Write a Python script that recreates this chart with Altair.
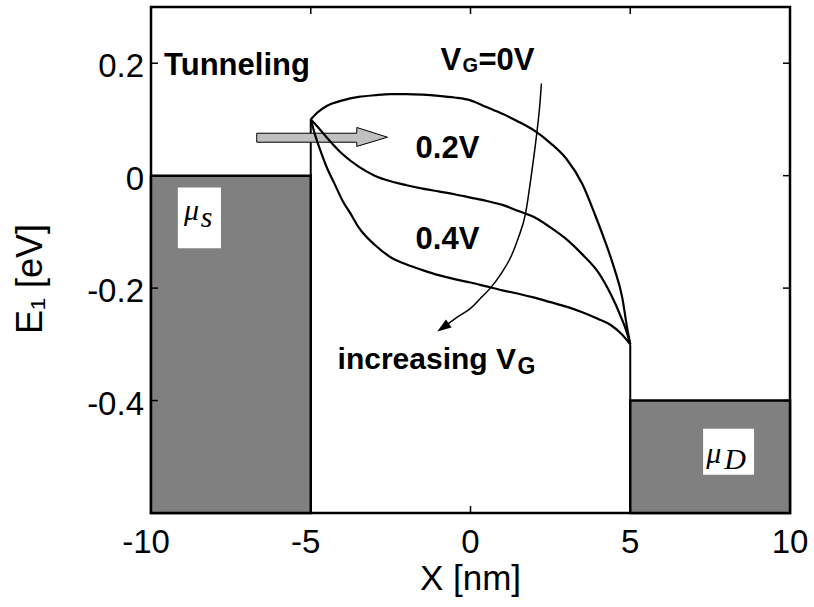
import altair as alt
import pandas as pd

# Channel band profile E1(x) for three gate voltages
x_vg0 = [-5.0, -4.8, -4.5, -4.0, -3.5, -3.0, -2.5, -2.0, -1.5, -1.0, -0.5, 0.0, 0.5, 1.0,
         1.5, 2.0, 2.5, 3.0, 3.5, 3.9, 4.2, 4.5, 4.75, 4.9, 5.0]
e_vg0 = [0.100, 0.112, 0.124, 0.134, 0.140, 0.143, 0.145, 0.145, 0.144, 0.142, 0.139, 0.134,
         0.122, 0.110, 0.096, 0.080, 0.058, 0.030, -0.015, -0.070, -0.115, -0.165, -0.217,
         -0.270, -0.300]

x_vg02 = [-5.0, -4.8, -4.5, -4.0, -3.5, -3.0, -2.5, -2.0, -1.5, -1.0, -0.5, 0.0, 0.5, 1.0,
          1.5, 2.0, 2.5, 3.0, 3.5, 4.0, 4.4, 4.7, 4.9, 5.0]
e_vg02 = [0.100, 0.088, 0.068, 0.038, 0.016, 0.000, -0.010, -0.017, -0.023, -0.028, -0.033,
          -0.039, -0.045, -0.052, -0.063, -0.074, -0.092, -0.113, -0.140, -0.172, -0.212,
          -0.250, -0.280, -0.300]

x_vg04 = [-5.0, -4.85, -4.7, -4.5, -4.25, -4.0, -3.75, -3.5, -3.0, -2.5, -2.0, -1.5, -1.0,
          -0.5, 0.0, 0.5, 1.0, 1.5, 2.0, 2.5, 3.0, 3.5, 4.0, 4.4, 4.75, 5.0]
e_vg04 = [0.100, 0.070, 0.045, 0.015, -0.015, -0.045, -0.068, -0.092, -0.123, -0.145, -0.158,
          -0.168, -0.177, -0.184, -0.190, -0.197, -0.204, -0.210, -0.217, -0.225, -0.233,
          -0.243, -0.255, -0.266, -0.283, -0.300]

# Source / drain contacts: x range and Fermi level
contact_x0 = [-10, 5]
contact_x1 = [-5, 10]
contact_mu = [0.0, -0.4]
contact_floor = [-0.6, -0.6]

# Barrier edges joining the contact levels to the channel ends
edge_x = [-5, 5]
edge_lo = [0.0, -0.4]
edge_hi = [0.1, -0.3]

x_ticks = [-10, -5, 0, 5, 10]
y_ticks = [-0.4, -0.2, 0, 0.2]
x_tick_labels = ["-10", "-5", "0", "5", "10"]
y_tick_labels = ["-0.4", "-0.2", "0", "0.2"]

W, H = 639, 506
FONT = "Liberation Sans"
SERIF = "Liberation Serif"

xs = alt.Scale(domain=[-10, 10], nice=False, zero=False)
ys = alt.Scale(domain=[-0.6, 0.3], nice=False, zero=False)


def X(field, **kw):
    return alt.X(field, type="quantitative", scale=xs, axis=None, **kw)


def Y(field, **kw):
    return alt.Y(field, type="quantitative", scale=ys, axis=None, **kw)


curves = pd.concat([
    pd.DataFrame({"x": x_vg0, "E": e_vg0, "vg": "0V"}),
    pd.DataFrame({"x": x_vg02, "E": e_vg02, "vg": "0.2V"}),
    pd.DataFrame({"x": x_vg04, "E": e_vg04, "vg": "0.4V"}),
])

contacts = pd.DataFrame({"x0": contact_x0, "x1": contact_x1,
                         "mu": contact_mu, "floor": contact_floor})
edges = pd.DataFrame({"x": edge_x, "lo": edge_lo, "hi": edge_hi})

contact_layer = alt.Chart(contacts).mark_rect(
    fill="#808080", stroke="black", strokeWidth=2.5
).encode(x=X("x0"), x2="x1", y=Y("mu"), y2="floor")

edge_layer = alt.Chart(edges).mark_rule(color="black", strokeWidth=2).encode(
    x=X("x"), y=Y("lo"), y2="hi")

# White label boxes on the contacts
boxes = pd.DataFrame({"x0": [-9.16, 7.28], "x1": [-7.81, 8.875],
                      "y0": [-0.021, -0.45], "y1": [-0.129, -0.532]})
box_layer = alt.Chart(boxes).mark_rect(fill="white").encode(
    x=X("x0"), x2="x1", y=Y("y0"), y2="y1")

mu_text = pd.DataFrame({
    "t": ["\u03bc", "s", "\u03bc", "D"],
    "x": [-8.97, -8.44, 7.375, 7.94],
    "y": [-0.079, -0.091, -0.511, -0.521],
})
mu_layer = alt.Chart(mu_text).mark_text(
    font=SERIF, fontStyle="italic", fontSize=30, align="left",
    baseline="alphabetic", color="black"
).encode(x=X("x"), y=Y("y"), text="t:N")

# Tunneling block arrow (outline traced as one closed area)
arrow = pd.DataFrame({
    "x": [-6.69, -3.56, -3.559, -2.6],
    "lo": [0.0595, 0.0595, 0.052, 0.0684],
    "hi": [0.0755, 0.0755, 0.0857, 0.0684],
})
arrow_layer = alt.Chart(arrow).mark_area(
    color="#c0c0c0", stroke="black", strokeWidth=1, opacity=1
).encode(x=X("x"), y=Y("hi"), y2="lo")

curve_layer = alt.Chart(curves).mark_line(
    color="black", strokeWidth=2.2, interpolate="monotone"
).encode(x=X("x"), y=Y("E"), detail="vg:N")

# "increasing V_G" guide arrow
guide = pd.DataFrame({
    "x": [2.22, 2.16, 2.08, 1.95, 1.72, 1.5, 1.25, 0.95, 0.62, 0.3, 0.0, -0.5, -0.86],
    "y": [0.164, 0.12, 0.078, 0.02, -0.068, -0.11, -0.146, -0.175, -0.200, -0.219,
          -0.236, -0.255, -0.270],
})
guide["i"] = range(len(guide))
guide_layer = alt.Chart(guide).mark_line(
    color="black", strokeWidth=1.5, interpolate="cardinal"
).encode(x=X("x"), y=Y("y"), order="i:Q")

head = pd.DataFrame({"x": [-0.86], "y": [-0.270]})
head_layer = alt.Chart(head).mark_point(
    shape="M0,-1L0.7,1L-0.7,1Z", filled=True, color="black", opacity=1,
    size=196, angle=235
).encode(x=X("x"), y=Y("y"))

# Bold annotations
big = pd.DataFrame({
    "t": ["Tunneling", "V", "=0V", "0.2V", "0.4V"],
    "x": [-9.59, -0.94, 0.25, -1.72, -1.72],
    "y": [0.179, 0.1875, 0.1875, 0.032, -0.130],
})
big_layer = alt.Chart(big).mark_text(
    font=FONT, fontWeight="bold", fontSize=31, align="left",
    baseline="alphabetic", color="black"
).encode(x=X("x"), y=Y("y"), text="t:N")

inc = pd.DataFrame({"t": ["increasing V"], "x": [-4.16], "y": [-0.343]})
inc_layer = alt.Chart(inc).mark_text(
    font=FONT, fontWeight="bold", fontSize=30, align="left",
    baseline="alphabetic", color="black"
).encode(x=X("x"), y=Y("y"), text="t:N")

sub_a = alt.Chart(pd.DataFrame({"t": ["G"], "x": [-0.25], "y": [0.184]})).mark_text(
    font=FONT, fontWeight="bold", fontSize=20, align="left",
    baseline="alphabetic", color="black"
).encode(x=X("x"), y=Y("y"), text="t:N")
sub_b = alt.Chart(pd.DataFrame({"t": ["G"], "x": [1.47], "y": [-0.352]})).mark_text(
    font=FONT, fontWeight="bold", fontSize=23, align="left",
    baseline="alphabetic", color="black"
).encode(x=X("x"), y=Y("y"), text="t:N")

# Inward ticks on all four sides of the box
tx = pd.DataFrame({"x": x_ticks, "label": x_tick_labels})
ty = pd.DataFrame({"y": y_ticks, "label": y_tick_labels})
TL = 7
tick_b = alt.Chart(tx).mark_rule(color="black", strokeWidth=1.5).encode(
    x=X("x"), y=alt.value(H), y2=alt.value(H - TL))
tick_t = alt.Chart(tx).mark_rule(color="black", strokeWidth=1.5).encode(
    x=X("x"), y=alt.value(0), y2=alt.value(TL))
tick_l = alt.Chart(ty).mark_rule(color="black", strokeWidth=1.5).encode(
    y=Y("y"), x=alt.value(0), x2=alt.value(TL))
tick_r = alt.Chart(ty).mark_rule(color="black", strokeWidth=1.5).encode(
    y=Y("y"), x=alt.value(W), x2=alt.value(W - TL))

# Tick labels (negative ones nudged so the digits sit centred on the tick)
xlab_style = dict(font=FONT, fontSize=33, align="center", baseline="alphabetic",
                  color="black")
xlab_pos = alt.Chart(tx).transform_filter(alt.datum.x >= 0).mark_text(
    **xlab_style
).encode(x=X("x"), y=alt.value(H + 40), text="label:N")
xlab_neg = alt.Chart(tx).transform_filter(alt.datum.x < 0).mark_text(
    dx=-5, **xlab_style
).encode(x=X("x"), y=alt.value(H + 40), text="label:N")
ylab = alt.Chart(ty).mark_text(
    font=FONT, fontSize=33, align="right", baseline="alphabetic", color="black", dy=14
).encode(y=Y("y"), x=alt.value(-7), text="label:N")

# Axis titles
xtitle = alt.Chart(pd.DataFrame({"t": ["X [nm]"]})).mark_text(
    font=FONT, fontSize=35, align="center", baseline="alphabetic", color="black"
).encode(x=alt.value(W / 2), y=alt.value(H + 77), text="t:N")
ytitle = alt.Chart(pd.DataFrame({"t": ["E\u2081 [eV]"]})).mark_text(
    font=FONT, fontSize=36, align="center", baseline="alphabetic", color="black",
    angle=270
).encode(x=alt.value(-109), y=alt.value(272), text="t:N")

chart = alt.layer(
    contact_layer, box_layer, mu_layer, edge_layer, arrow_layer, curve_layer,
    guide_layer, head_layer, big_layer, inc_layer, sub_a, sub_b,
    tick_b, tick_t, tick_l, tick_r, xlab_pos, xlab_neg, ylab, xtitle, ytitle,
).properties(
    width=W, height=H,
    autosize=alt.AutoSizeParams(type="none"),
    padding={"left": 151, "top": 7, "right": 24, "bottom": 94},
    background="white",
).configure_view(
    stroke="black", strokeWidth=2.5
)

chart.save("out.html", embed_options={"renderer": "svg", "actions": False})
